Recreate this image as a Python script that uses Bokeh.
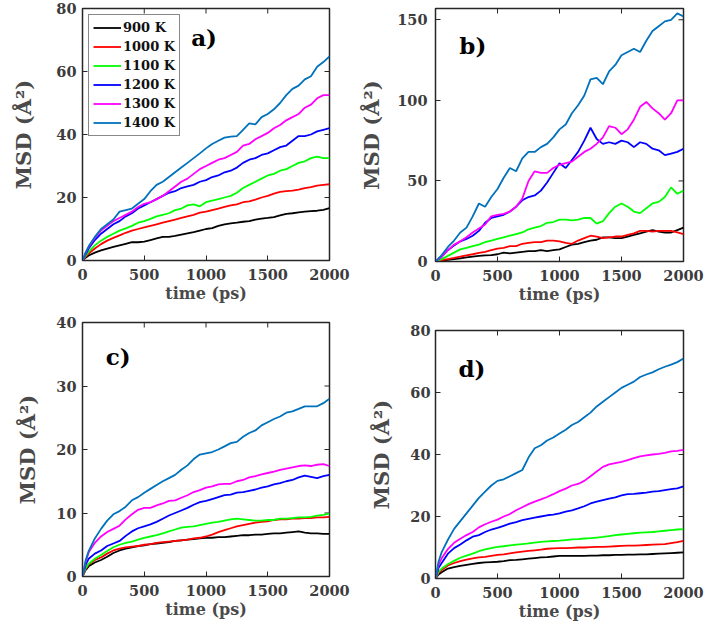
import math

from bokeh.plotting import figure
from bokeh.models import Range1d, FixedTicker, Label, Legend, LegendItem
from bokeh.layouts import row, column
from bokeh.embed import file_html
from bokeh.resources import INLINE

# simulation time (ps)
T = [0, 25, 50, 100, 150, 200, 250, 300, 350, 400, 450, 500, 550, 600, 650, 700,
     750, 800, 850, 900, 950, 1000, 1050, 1100, 1150, 1200, 1250, 1300, 1350, 1400,
     1450, 1500, 1550, 1600, 1650, 1700, 1750, 1800, 1850, 1900, 1950, 2000]

TEMPS = ["900 K", "1000 K", "1100 K", "1200 K", "1300 K", "1400 K"]
COLORS = ["#000000", "#ff0000", "#00ff00", "#0000ff", "#ff00ff", "#0072bd"]

X_TICKS = [0, 500, 1000, 1500, 2000]

# panel a) MSD (Å^2)
a_900 = [0, 0.9, 1.6, 2.5, 3.2, 3.8, 4.3, 4.8, 5.3, 5.8, 5.8, 6.0, 6.5, 7.0, 7.5, 7.5, 7.8, 8.2, 8.6, 9.0, 9.5,
         10.0, 10.3, 11.0, 11.5, 11.8, 12.0, 12.3, 12.5, 13.0, 13.3, 13.5, 13.8, 14.3, 14.8, 15.0, 15.3, 15.5, 15.7, 15.8, 16.1, 16.6]
a_1000 = [0, 1.2, 2.2, 3.8, 5.2, 6.3, 7.2, 8.0, 8.8, 9.5, 10.0, 10.5, 11.0, 11.5, 12.0, 12.5, 13.0, 13.5, 14.0, 14.5, 15.2,
          15.5, 16.0, 16.5, 17.0, 17.5, 17.8, 18.5, 18.8, 19.3, 20.0, 20.5, 21.2, 21.8, 22.0, 22.2, 22.5, 23.0, 23.3, 23.8, 24.0, 24.2]
a_1100 = [0, 1.5, 2.8, 4.8, 6.3, 7.5, 8.5, 9.5, 10.2, 11.0, 12.0, 12.5, 13.2, 14.0, 14.5, 15.0, 16.0, 16.5, 17.5, 17.8, 17.2,
          18.5, 19.0, 19.5, 20.0, 20.5, 21.5, 23.0, 24.0, 25.0, 26.0, 27.0, 27.5, 28.5, 29.0, 30.0, 31.0, 31.5, 32.5, 33.0, 32.5, 32.5]
a_1200 = [0, 2.0, 3.8, 6.5, 8.5, 10.0, 11.5, 12.5, 14.0, 15.0, 16.5, 17.5, 18.5, 19.5, 20.5, 21.5, 22.0, 23.0, 23.5, 24.0, 25.0,
          25.5, 26.5, 27.0, 28.0, 28.5, 29.5, 31.0, 32.0, 32.5, 33.5, 34.0, 35.0, 36.0, 36.5, 38.0, 39.5, 39.5, 40.0, 41.0, 41.5, 42.0]
a_1300 = [0, 2.4, 4.3, 7.3, 9.5, 11.0, 12.5, 13.5, 14.5, 15.5, 17.0, 18.0, 18.5, 19.5, 20.5, 22.0, 23.5, 25.0, 26.0, 27.5, 29.0,
          30.0, 31.0, 32.0, 32.5, 33.5, 34.5, 36.5, 37.0, 38.5, 39.5, 40.5, 42.0, 43.0, 44.5, 45.5, 46.5, 48.5, 49.5, 51.5, 52.5, 52.5]
a_1400 = [0, 2.5, 4.5, 7.5, 10.0, 11.5, 13.0, 15.5, 16.0, 16.5, 18.0, 19.5, 22.0, 24.0, 25.0, 26.5, 28.0, 29.5, 31.0, 32.5, 34.0,
          35.6, 37.0, 38.0, 39.0, 39.3, 39.5, 41.5, 43.5, 43.2, 45.5, 46.5, 48.0, 50.0, 52.5, 54.5, 55.5, 57.5, 58.5, 61.5, 63.0, 64.8]

# panel b)
b_900 = [0, 0.3, 0.6, 1.0, 1.5, 2.0, 2.5, 3.0, 3.5, 3.8, 4.0, 4.5, 5.5, 5.0, 5.5, 6.0, 6.5, 6.5, 7.0, 6.5, 7.0,
         7.5, 9.0, 10.5, 11.0, 12.0, 13.0, 13.5, 15.0, 15.0, 14.5, 14.5, 15.5, 16.5, 17.5, 18.5, 19.5, 18.5, 18.0, 18.0, 19.5, 21.0]
b_1000 = [0, 0.4, 0.8, 1.5, 2.2, 3.0, 3.8, 4.5, 5.3, 6.0, 7.0, 8.0, 8.5, 9.5, 9.5, 11.0, 11.5, 12.0, 12.0, 13.0, 13.0,
          12.5, 11.5, 11.0, 13.0, 14.5, 16.0, 15.5, 14.5, 15.0, 15.5, 15.5, 16.5, 17.5, 19.0, 19.0, 18.5, 19.0, 19.0, 19.0, 18.0, 17.0]
b_1100 = [0, 0.8, 1.5, 3.5, 5.5, 7.5, 8.5, 9.5, 10.5, 12.0, 13.0, 14.0, 15.0, 16.0, 17.0, 18.0, 20.0, 21.0, 22.0, 24.0, 24.5,
          26.0, 26.0, 25.5, 26.0, 27.0, 27.0, 23.5, 25.0, 30.0, 34.0, 36.0, 34.0, 31.0, 30.0, 33.0, 36.0, 37.0, 40.0, 46.0, 42.0, 44.0]
b_1200 = [0, 1.5, 3.0, 7.0, 10.0, 12.5, 14.0, 16.0, 19.0, 24.0, 27.0, 28.0, 29.0, 31.0, 34.0, 38.0, 40.0, 41.0, 44.0, 49.0, 55.0,
          61.0, 58.0, 63.0, 68.0, 75.0, 83.0, 76.0, 73.0, 74.0, 73.0, 75.0, 74.0, 71.0, 74.0, 73.0, 70.0, 69.0, 66.0, 67.0, 68.0, 70.0]
b_1300 = [0, 1.5, 3.0, 7.0, 10.5, 12.5, 15.0, 18.0, 20.5, 23.0, 28.0, 29.0, 29.5, 31.0, 34.0, 39.0, 50.0, 56.0, 55.0, 55.0, 58.0,
          60.0, 61.0, 62.0, 65.0, 68.0, 70.0, 73.0, 77.0, 84.0, 83.0, 79.0, 82.0, 88.0, 96.0, 99.0, 95.0, 92.0, 88.0, 92.0, 100.0, 100.0]
b_1400 = [0, 2.0, 4.0, 9.0, 13.0, 18.0, 21.0, 28.0, 36.0, 34.0, 40.0, 45.0, 52.0, 58.0, 56.0, 64.0, 68.0, 68.0, 71.0, 73.0, 77.0,
          82.0, 85.0, 92.0, 97.0, 103.0, 113.0, 114.0, 110.0, 118.0, 122.0, 128.0, 130.0, 132.0, 130.0, 137.0, 143.0, 146.0, 149.0, 150.0, 154.0, 152.0]

# panel c)
c_900 = [0, 1.0, 1.6, 2.2, 2.6, 3.1, 3.7, 4.1, 4.4, 4.6, 4.8, 4.9, 5.1, 5.2, 5.3, 5.4, 5.6, 5.7, 5.8, 5.9, 6.0,
         6.1, 6.1, 6.2, 6.2, 6.3, 6.4, 6.5, 6.5, 6.6, 6.6, 6.7, 6.8, 6.8, 6.9, 7.0, 7.1, 6.9, 6.8, 6.8, 6.7, 6.7]
c_1000 = [0, 1.2, 1.9, 2.6, 3.0, 3.6, 4.1, 4.4, 4.6, 4.7, 4.8, 5.0, 5.1, 5.3, 5.4, 5.5, 5.6, 5.7, 5.8, 6.0, 6.1,
          6.3, 6.6, 7.0, 7.3, 7.6, 7.9, 8.1, 8.3, 8.5, 8.6, 8.7, 8.9, 9.0, 9.0, 9.1, 9.1, 9.2, 9.2, 9.3, 9.3, 9.4]
c_1100 = [0, 1.3, 2.0, 2.8, 3.4, 4.0, 4.6, 5.0, 5.3, 5.5, 5.8, 6.1, 6.3, 6.5, 6.8, 7.1, 7.4, 7.7, 7.8, 7.9, 8.1,
          8.3, 8.5, 8.6, 8.8, 9.0, 9.1, 9.0, 8.9, 8.8, 8.8, 8.9, 8.9, 9.1, 9.1, 9.2, 9.3, 9.3, 9.4, 9.6, 9.7, 9.9]
c_1200 = [0, 1.8, 2.8, 3.6, 4.1, 4.8, 5.2, 5.6, 6.4, 7.1, 7.6, 7.9, 8.2, 8.6, 9.1, 9.6, 10.0, 10.4, 10.8, 11.3, 11.7,
          11.9, 12.2, 12.5, 12.8, 12.9, 13.2, 13.3, 13.5, 13.7, 14.0, 14.2, 14.5, 14.7, 15.0, 15.2, 15.6, 15.9, 15.7, 15.5, 15.8, 16.0]
c_1300 = [0, 2.3, 3.8, 5.3, 6.3, 7.0, 7.5, 8.0, 9.0, 9.8, 10.5, 10.8, 10.8, 11.2, 11.5, 11.9, 12.0, 12.4, 12.8, 13.3, 13.6,
          14.0, 14.2, 14.5, 14.6, 14.6, 15.0, 15.2, 15.6, 15.8, 16.1, 16.3, 16.5, 16.8, 17.0, 17.2, 17.4, 17.5, 17.4, 17.6, 17.7, 17.4]
c_1400 = [0, 2.5, 4.0, 6.0, 7.5, 8.8, 9.8, 10.3, 11.0, 12.0, 12.5, 13.2, 13.8, 14.4, 15.0, 15.5, 16.0, 16.8, 17.5, 18.5, 19.2,
          19.4, 19.6, 20.0, 20.5, 21.0, 21.2, 22.0, 22.6, 23.0, 23.8, 24.3, 24.8, 25.2, 25.8, 26.0, 26.4, 26.8, 26.8, 26.8, 27.3, 28.0]

# panel d)
d_900 = [0, 1.3, 2.0, 3.2, 3.7, 4.1, 4.4, 4.7, 5.0, 5.2, 5.3, 5.4, 5.6, 5.9, 6.0, 6.2, 6.4, 6.6, 6.8, 6.9, 7.1,
         7.3, 7.3, 7.3, 7.3, 7.3, 7.4, 7.4, 7.5, 7.5, 7.6, 7.6, 7.7, 7.7, 7.8, 7.8, 7.9, 8.0, 8.1, 8.2, 8.3, 8.4]
d_1000 = [0, 1.8, 2.7, 4.2, 5.0, 5.6, 6.1, 6.5, 6.8, 7.0, 7.3, 7.6, 7.8, 8.1, 8.4, 8.7, 8.9, 9.1, 9.3, 9.6, 9.7,
          9.8, 9.8, 9.9, 10.0, 10.0, 10.1, 10.2, 10.2, 10.3, 10.4, 10.5, 10.6, 10.6, 10.7, 10.8, 10.9, 11.0, 11.1, 11.4, 11.7, 12.1]
d_1100 = [0, 2.2, 3.2, 4.6, 5.7, 6.7, 7.4, 8.0, 8.8, 9.4, 9.8, 10.2, 10.4, 10.7, 10.9, 11.1, 11.3, 11.6, 11.8, 12.0, 12.1,
          12.2, 12.4, 12.6, 12.7, 12.9, 13.0, 13.2, 13.4, 13.7, 14.0, 14.2, 14.4, 14.6, 14.8, 14.9, 15.0, 15.2, 15.4, 15.6, 15.8, 15.9]
d_1200 = [0, 3.5, 5.0, 8.0, 9.8, 11.0, 12.3, 13.5, 14.0, 15.0, 15.8, 16.3, 17.0, 17.7, 18.2, 18.8, 19.2, 19.6, 20.0, 20.4, 20.6,
          21.0, 21.6, 22.0, 22.6, 23.3, 24.2, 24.8, 25.3, 25.8, 26.2, 26.8, 27.2, 27.3, 27.5, 27.7, 28.0, 28.2, 28.5, 28.8, 29.1, 29.7]
d_1300 = [0, 4.5, 6.5, 9.5, 11.5, 12.8, 14.0, 15.0, 16.5, 17.5, 18.3, 19.0, 20.0, 20.8, 22.0, 23.0, 24.0, 24.8, 25.5, 26.3, 27.2,
          28.2, 29.0, 30.0, 30.5, 31.5, 33.0, 34.5, 36.0, 36.8, 37.2, 37.6, 38.2, 38.8, 39.4, 39.7, 40.0, 40.2, 40.5, 41.0, 41.2, 41.5]
d_1400 = [0, 5.5, 8.5, 12.5, 16.0, 18.5, 21.0, 23.5, 26.0, 28.0, 30.0, 31.5, 32.0, 33.0, 34.0, 35.0, 39.0, 42.0, 43.0, 44.5, 45.5,
          46.8, 48.0, 49.5, 50.5, 52.0, 53.5, 55.5, 57.0, 58.5, 60.0, 61.5, 62.5, 63.5, 65.0, 65.8, 66.5, 67.5, 68.3, 69.0, 69.8, 71.0]

FONT = "DejaVu Serif"
TICK_COLOR = "#3c3c3c"
LABEL_COLOR = "#4a4a4a"
FRAME_COLOR = "#262626"


def style_axis(ax, ticks, label, label_size, label_standoff, tick_standoff):
    ax.ticker = FixedTicker(ticks=ticks)
    ax.axis_line_color = None
    ax.major_tick_in = 5
    ax.major_tick_out = 0
    ax.major_tick_line_color = FRAME_COLOR
    ax.major_tick_line_width = 1
    ax.minor_tick_line_color = None
    ax.major_label_text_font = FONT
    ax.major_label_text_font_style = "bold"
    ax.major_label_text_color = TICK_COLOR
    ax.major_label_text_font_size = "14.5px"
    ax.major_label_standoff = tick_standoff
    ax.axis_label = label
    ax.axis_label_text_font = FONT
    ax.axis_label_text_font_style = "bold"
    ax.axis_label_text_font_size = label_size
    ax.axis_label_text_color = LABEL_COLOR
    ax.axis_label_standoff = label_standoff


def panel(width, height, left, right, top, bottom, ymax, yticks, series, tag, tag_xy,
          ylab_standoff, ytick_standoff, with_legend=False):
    p = figure(width=width, height=height, output_backend="svg", toolbar_location=None,
               x_range=Range1d(0, 2000), y_range=Range1d(0, ymax),
               min_border_left=left, min_border_right=right,
               min_border_top=top, min_border_bottom=bottom)
    p.background_fill_color = "white"
    p.border_fill_color = "white"
    p.grid.visible = False
    p.outline_line_color = FRAME_COLOR
    p.outline_line_width = 1.5

    style_axis(p.xaxis[0], X_TICKS, "time (ps)", "16px", 1, 8)
    style_axis(p.yaxis[0], yticks, "MSD (Å²)", "21px", ylab_standoff, ytick_standoff)

    # inward tick marks on the top and right edges of the box
    p.scatter(X_TICKS, [ymax] * len(X_TICKS), marker="dash", angle=math.pi / 2,
              size=10, line_color=FRAME_COLOR, line_width=1)
    p.scatter([2000] * len(yticks), yticks, marker="dash",
              size=10, line_color=FRAME_COLOR, line_width=1)

    items = []
    for name, color, ys in zip(TEMPS, COLORS, series):
        r = p.line(T, ys, line_color=color, line_width=1.8)
        items.append(LegendItem(label=name, renderers=[r]))

    if with_legend:
        leg = Legend(items=items, location="top_left")
        leg.label_text_font = FONT
        leg.label_text_font_style = "bold"
        leg.label_text_font_size = "13px"
        leg.label_text_color = "#111111"
        leg.glyph_width = 28
        leg.glyph_height = 17
        leg.label_height = 17
        leg.label_standoff = 2
        leg.spacing = 2
        leg.padding = 4
        leg.margin = 6
        leg.border_line_color = "#111111"
        leg.border_line_width = 1.5
        leg.background_fill_color = "white"
        leg.background_fill_alpha = 1.0
        p.add_layout(leg)

    p.add_layout(Label(x=tag_xy[0], y=tag_xy[1], text=tag, text_font=FONT,
                       text_font_style="bold", text_font_size="23px",
                       text_color="black", text_baseline="alphabetic"))
    return p


pa = panel(350, 310, 77, 21, 8, 50, 80, [0, 20, 40, 60, 80],
           [a_900, a_1000, a_1100, a_1200, a_1300, a_1400], "a)", (880, 70.8),
           ylab_standoff=17, ytick_standoff=6, with_legend=True)
pb = panel(359, 310, 82, 20, 8, 49, 157, [0, 50, 100, 150],
           [b_900, b_1000, b_1100, b_1200, b_1300, b_1400], "b)", (192, 134),
           ylab_standoff=10, ytick_standoff=8)
pc = panel(350, 319, 82, 15, 12, 53, 40, [0, 10, 20, 30, 40],
           [c_900, c_1000, c_1100, c_1200, c_1300, c_1400], "c)", (188, 34.6),
           ylab_standoff=13, ytick_standoff=6)
pd = panel(359, 319, 85, 26, 20, 51, 80, [0, 20, 40, 60, 80],
           [d_900, d_1000, d_1100, d_1200, d_1300, d_1400], "d)", (185, 67.9),
           ylab_standoff=13, ytick_standoff=5)

layout = row(column(pa, pc), column(pb, pd))
open("out.html", "w").write(file_html(layout, INLINE))
